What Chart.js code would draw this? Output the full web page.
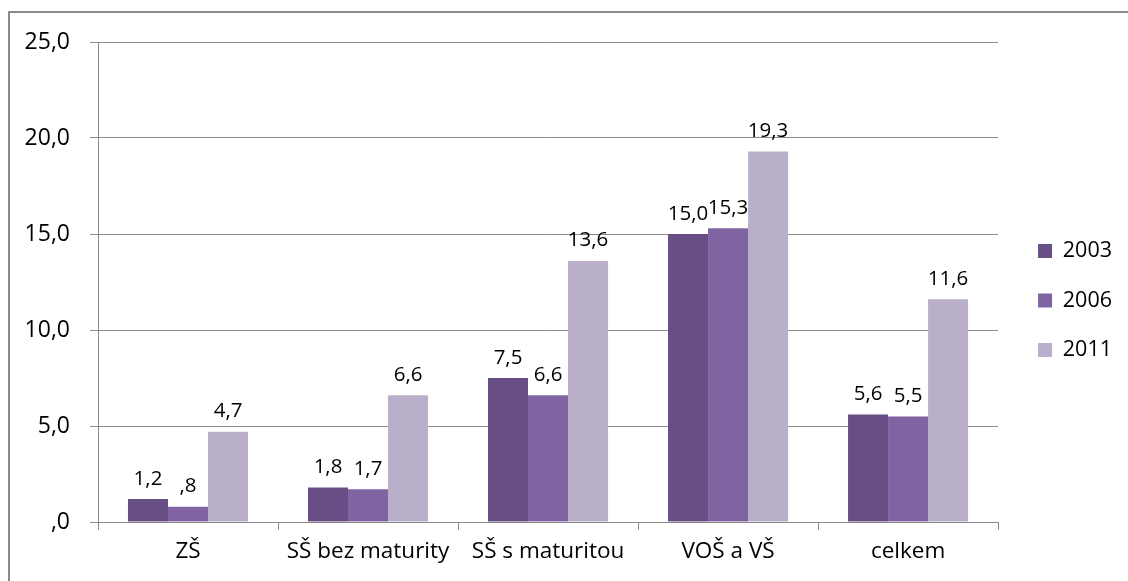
<!DOCTYPE html>
<html>
<head>
<meta charset="utf-8">
<script src="https://cdn.jsdelivr.net/npm/chart.js@4.4.0/dist/chart.umd.min.js"></script>
<style>
  html, body { margin: 0; padding: 0; background: #fff; }
  #wrap { position: relative; width: 1128px; height: 581px; overflow: hidden; }
  #frame { position: absolute; left: 8px; top: 11px; width: 1200px; height: 700px; border-left: 2px solid #8a8a8a; border-top: 2px solid #8a8a8a; pointer-events: none; }
  canvas { position: absolute; left: 0; top: 0; }
</style>
</head>
<body>
<div id="wrap">
  <canvas id="chart" width="1128" height="581"></canvas>
  <div id="frame"></div>
</div>
<script>
// categories and series
const categories = ["ZŠ", "SŠ bez maturity", "SŠ s maturitou", "VOŠ a VŠ", "celkem"];
const years = ["2003", "2006", "2011"];
const v2003 = [1.2, 1.8, 7.5, 15.0, 5.6];
const v2006 = [0.8, 1.7, 6.6, 15.3, 5.5];
const v2011 = [4.7, 6.6, 13.6, 19.3, 11.6];
const colors = ["#674f86", "#8064a2", "#b9afcb"];

const FONT = "'Open Sans', sans-serif";

// czech style number: comma decimal, no leading zero
function fmt(v) {
  let s = v.toFixed(1).replace(".", ",");
  if (s.startsWith("0")) s = s.slice(1);
  return s;
}

const valueLabels = {
  id: "valueLabels",
  afterLayout(chart) {
    // nudge legend to where the original sits
    const lg = chart.legend;
    lg.left += 12; lg.right += 12;
    lg.top -= 7; lg.bottom -= 7;
  },
  afterDatasetsDraw(chart) {
    const ctx = chart.ctx;
    ctx.save();
    ctx.font = "20.5px " + FONT;
    ctx.fillStyle = "#000";
    ctx.textAlign = "center";
    ctx.textBaseline = "bottom";
    chart.data.datasets.forEach((ds, i) => {
      chart.getDatasetMeta(i).data.forEach((bar, j) => {
        ctx.fillText(fmt(ds.data[j]), bar.x, bar.y - 10);
      });
    });
    ctx.restore();
  }
};

new Chart(document.getElementById("chart"), {
  type: "bar",
  data: {
    labels: categories,
    datasets: [
      { label: years[0], data: v2003, backgroundColor: colors[0] },
      { label: years[1], data: v2006, backgroundColor: colors[1] },
      { label: years[2], data: v2011, backgroundColor: colors[2] }
    ]
  },
  options: {
    responsive: false,
    animation: false,
    layout: { padding: { top: 42, right: 18, bottom: 8, left: 0 } },
    categoryPercentage: 0.667,
    barPercentage: 1.0,
    plugins: {
      legend: {
        position: "right",
        labels: {
          boxWidth: 14,
          boxHeight: 14,
          padding: 28,
          color: "#000",
          font: { family: FONT, size: 21.5 }
        }
      },
      tooltip: { enabled: false }
    },
    scales: {
      x: {
        grid: { offset: true, drawOnChartArea: false, drawTicks: true, tickLength: 8, color: "#8a8a8a" },
        border: { display: true, color: "#8a8a8a" },
        ticks: { color: "#000", padding: 8, font: { family: FONT, size: 22.5 } }
      },
      y: {
        min: 0,
        max: 25,
        afterFit(s) { s.width = 98; },
        grid: { color: "#8a8a8a", tickLength: 8 },
        border: { display: true, color: "#8a8a8a" },
        ticks: {
          stepSize: 5,
          color: "#000",
          padding: 20,
          font: { family: FONT, size: 23 },
          callback: v => fmt(v)
        }
      }
    }
  },
  plugins: [valueLabels]
});
</script>
</body>
</html>
